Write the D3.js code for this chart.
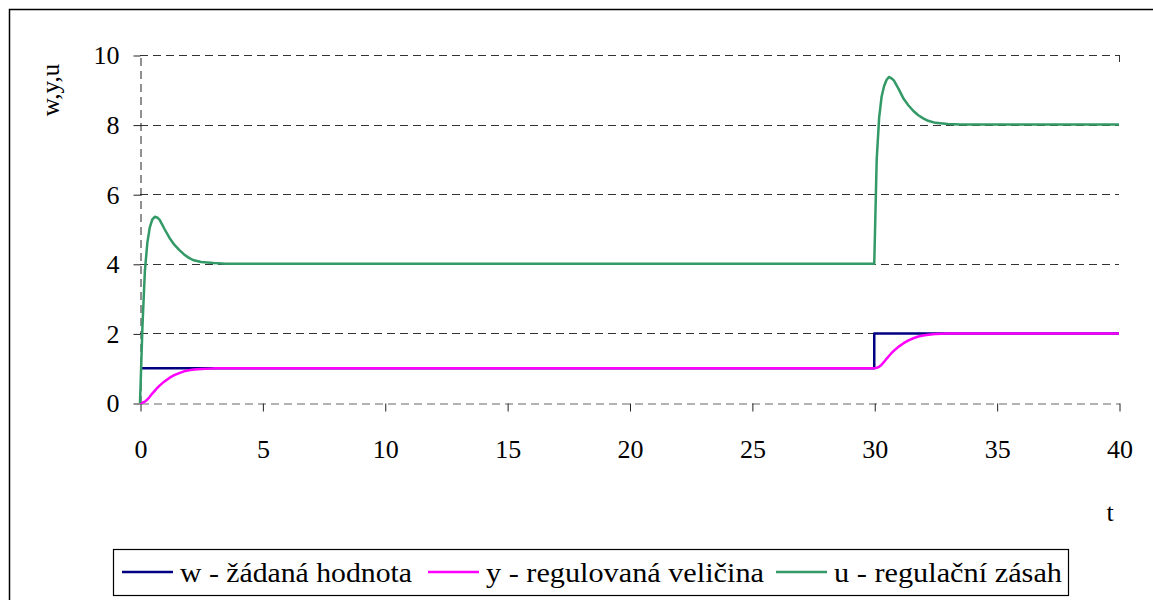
<!DOCTYPE html>
<html>
<head>
<meta charset="utf-8">
<script src="https://cdn.jsdelivr.net/npm/d3@7"></script>
<style>
  body { margin: 0; background: #fff; }
</style>
</head>
<body>
<svg id="chart" width="1153" height="600"></svg>
<script>
// data
const time = [0, 0.1, 0.2, 0.3, 0.4, 0.5, 0.6, 0.7, 0.8, 1.0, 1.2, 1.4, 1.6, 1.8, 2.0, 2.2, 2.5, 3.0, 3.5,
              5, 10, 15, 20, 25, 30,
              30.1, 30.2, 30.3, 30.4, 30.5, 30.6, 30.7, 30.8, 31.0, 31.2, 31.4, 31.6, 31.8, 32.0, 32.2, 32.5, 33.0, 33.5,
              35, 40];
const uValues = [0, 2.2, 3.8, 4.6, 5.05, 5.27, 5.35, 5.33, 5.27, 5.0, 4.75, 4.55, 4.4, 4.27, 4.17, 4.1, 4.05, 4.02, 4.0,
                 4, 4, 4, 4, 4, 4,
                 7.0, 8.2, 8.8, 9.1, 9.28, 9.37, 9.33, 9.27, 9.02, 8.74, 8.55, 8.39, 8.27, 8.18, 8.11, 8.05, 8.02, 8.0,
                 8, 8];
const yValues = [0, 0.01, 0.04, 0.1, 0.18, 0.27, 0.35, 0.43, 0.5, 0.62, 0.72, 0.8, 0.86, 0.91, 0.94, 0.96, 0.98, 0.995, 1,
                 1, 1, 1, 1, 1, 1,
                 1.01, 1.04, 1.1, 1.18, 1.27, 1.35, 1.43, 1.5, 1.62, 1.72, 1.8, 1.86, 1.91, 1.94, 1.96, 1.98, 1.995, 2,
                 2, 2];
const wTime = [0, 30, 30, 40];
const wValues = [1, 1, 2, 2];

const xTicks = [0, 5, 10, 15, 20, 25, 30, 35, 40];
const yTicks = [0, 2, 4, 6, 8, 10];

const seriesNames = ["w - žádaná hodnota", "y - regulovaná veličina", "u - regulační zásah"];
const seriesColors = ["#000080", "#ff00ff", "#339966"];

const font = "'Liberation Serif', 'Times New Roman', serif";

const svg = d3.select("#chart");

// outer frame
svg.append("rect")
   .attr("x", 9.5).attr("y", 9.5)
   .attr("width", 1160).attr("height", 610)
   .attr("fill", "none").attr("stroke", "#000").attr("stroke-width", 1.5);

const x = d3.scaleLinear().domain([0, 40]).range([140, 1119]);
const y = d3.scaleLinear().domain([0, 10]).range([403, 55]);

// horizontal grid lines
svg.append("g").selectAll("line")
   .data(yTicks.filter(d => d > 0))
   .enter().append("line")
   .attr("x1", x(0)).attr("x2", x(40))
   .attr("y1", d => Math.round(y(d)) + 0.5)
   .attr("y2", d => Math.round(y(d)) + 0.5)
   .attr("stroke", "#333").attr("stroke-dasharray", "8,5");

// small tick at right end of top line
svg.append("line")
   .attr("x1", Math.round(x(40)) + 0.5).attr("x2", Math.round(x(40)) + 0.5)
   .attr("y1", y(10)).attr("y2", y(10) + 7)
   .attr("stroke", "#333");

// x axis
const axisX = svg.append("g")
   .attr("transform", `translate(0.5,${Math.round(y(0)) + 0.5})`)
   .call(d3.axisBottom(x).tickValues(xTicks).tickSize(8).tickSizeOuter(0));
axisX.attr("font-family", font);
axisX.select(".domain").attr("stroke", "#666").attr("stroke-dasharray", "8,5");
axisX.selectAll(".tick line").attr("stroke", "#222");
axisX.selectAll(".tick text")
   .attr("y", 45).attr("dy", "0.36em")
   .attr("font-size", 26).attr("fill", "#000");

// y axis
const axisY = svg.append("g")
   .attr("transform", `translate(${Math.round(x(0)) + 0.5},0.5)`)
   .call(d3.axisLeft(y).tickValues(yTicks).tickSize(7).tickSizeOuter(0).tickPadding(14));
axisY.attr("font-family", font);
axisY.select(".domain").attr("stroke", "#222").attr("stroke-dasharray", "8,5");
axisY.selectAll(".tick line").attr("stroke", "#222");
axisY.selectAll(".tick text")
   .attr("font-size", 26).attr("fill", "#000");

// axis titles
svg.append("text")
   .attr("transform", "translate(59,90) rotate(-90)")
   .attr("text-anchor", "middle")
   .attr("font-family", font)
   .attr("font-size", 25)
   .text("w,y,u");

svg.append("text")
   .attr("x", 1110).attr("y", 521)
   .attr("text-anchor", "middle")
   .attr("font-family", font)
   .attr("font-size", 26)
   .text("t");

// lines
const line = d3.line().x(d => x(d[0])).y(d => y(d[1]));

const wData = wTime.map((t, i) => [t, wValues[i]]);
const yData = time.map((t, i) => [t, yValues[i]]);
const uData = time.map((t, i) => [t, uValues[i]]);

[wData, yData, uData].forEach((data, i) => {
    svg.append("path")
       .datum(data)
       .attr("d", line)
       .attr("fill", "none")
       .attr("stroke", seriesColors[i])
       .attr("stroke-width", 2.5)
       .attr("stroke-linejoin", "round");
});

// legend
const legend = svg.append("g");
legend.append("rect")
   .attr("x", 113.5).attr("y", 549.5)
   .attr("width", 955).attr("height", 46)
   .attr("fill", "#fff").attr("stroke", "#000").attr("stroke-width", 1.2);

const legendStart = [122, 428, 776];
const legendTextWidth = [232, 278, 228];
seriesNames.forEach((name, i) => {
    const lx = legendStart[i];
    legend.append("line")
       .attr("x1", lx).attr("x2", lx + 51)
       .attr("y1", 572).attr("y2", 572)
       .attr("stroke", seriesColors[i]).attr("stroke-width", 2.5);
    legend.append("text")
       .attr("x", lx + 58).attr("y", 582)
       .attr("font-family", font)
       .attr("font-size", 27)
       .attr("textLength", legendTextWidth[i])
       .attr("lengthAdjust", "spacingAndGlyphs")
       .text(name);
});
</script>
</body>
</html>
